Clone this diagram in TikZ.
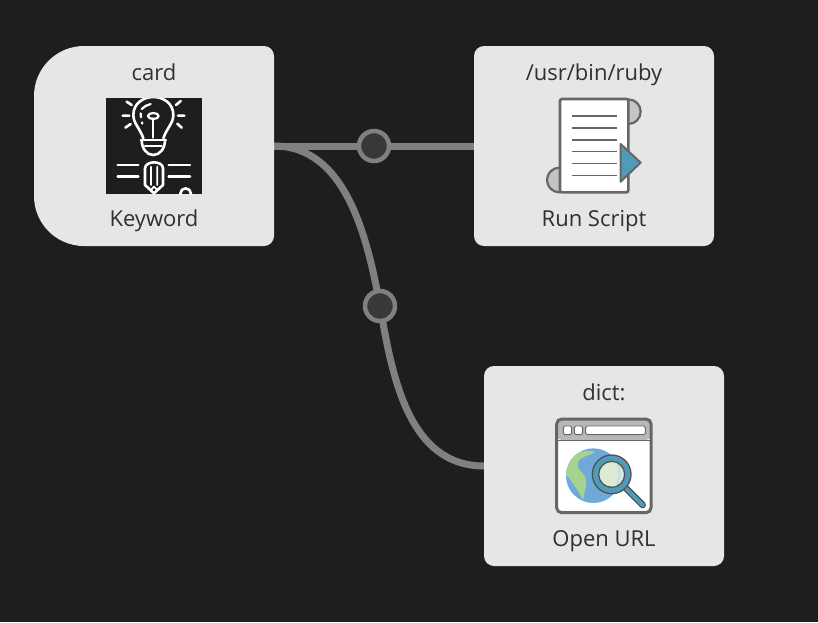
\documentclass[tikz,border=0pt]{standalone}
\usepackage{fontspec}
\setmainfont{Open Sans}
\definecolor{bgc}{HTML}{1E1E1E}
\definecolor{boxc}{HTML}{E6E6E6}
\definecolor{linec}{HTML}{808080}
\definecolor{dotc}{HTML}{383838}
\definecolor{txtc}{HTML}{303030}
\definecolor{ico}{HTML}{666666}
\definecolor{teal}{HTML}{4F9BB8}
\definecolor{curl}{HTML}{C4C4C4}
\definecolor{hdr}{HTML}{B8B8B8}
\definecolor{globe}{HTML}{70A8D8}
\definecolor{land}{HTML}{A6D48E}
\definecolor{lens}{HTML}{DCEBD4}
\tikzset{
  x=1pt,y=-1pt,
  nodebox/.style={fill=boxc,rounded corners=10pt,minimum width=240pt,minimum height=200pt,inner sep=0pt,outer sep=0pt},
  ghost/.style={minimum width=240pt,minimum height=200pt,inner sep=0pt,outer sep=0pt},
  lbl/.style={text=txtc,font=\fontsize{22pt}{24pt}\selectfont,inner sep=0pt,anchor=base},
  conn/.style={draw=linec,line width=7pt},
  via/.style={circle,draw=linec,fill=dotc,line width=4.5pt,minimum size=30pt,inner sep=0pt},
  icoline/.style={draw=ico,line width=2pt},
  bulb/.style={draw=white,line width=2.2pt,line cap=round,line join=round}
}
\begin{document}
\begin{tikzpicture}
\useasboundingbox (0,0) rectangle (818,622);
\fill[bgc] (0,0) rectangle (818,622);
% anchors for the boxes
\node[ghost] (card) at (154,146) {};
\node[ghost] (ruby) at (594,146) {};
\node[ghost] (dict) at (604,466) {};
\coordinate (d1c) at (374,146);
\coordinate (d2c) at (380,306);
% connectors
\draw[conn] (card.east) -- (ruby.west);
\draw[conn] (card.east) .. controls (345,146) and (367,235) .. (d2c);
\draw[conn] (d2c) .. controls (392,375) and (408,466) .. (dict.west);
\node[via] (d1) at (d1c) {};
\node[via] (d2) at (d2c) {};
% boxes
\fill[boxc,rounded corners=50pt] (34,146) -- (34,46) -- (154,46) [rounded corners=10pt] -- (274,46) -- (274,246) -- (154,246) [rounded corners=50pt] -- (34,246) -- (34,146);
\node[nodebox] at (ruby) {};
\node[nodebox] at (dict) {};
% labels
\node[lbl] (t1) at (154,80) {card};
\node[lbl] (t2) at (154,226) {Keyword};
\node[lbl] (t3) at (594,80) {/usr/bin/ruby};
\node[lbl] (t4) at (594,226) {Run Script};
\node[lbl] (t5) at (604,400) {dict:};
\node[lbl] (t6) at (604,546) {Open URL};
% keyword icon
\begin{scope}[shift={(90,85)},xscale=1/3,yscale=1/3]
  \fill[bgc] (48,39) rectangle (336,327);
  \begin{scope}
    \clip (48,39) rectangle (336,327);
    \draw[bulb,line width=2.6pt] (160,160) .. controls (150,130) and (130,115) .. (130,90)
       .. controls (130,55) and (160,36) .. (190,36) .. controls (220,36) and (250,55) .. (250,90)
       .. controls (250,115) and (230,130) .. (220,160);
    \draw[bulb,line width=2.6pt] (153,165) -- (228,165);
    \draw[bulb,line width=2.6pt] (155,165) .. controls (155,190) and (170,210) .. (190,210) .. controls (210,210) and (225,190) .. (225,165);
    \draw[bulb] (165,182) -- (215,182);
    \draw[bulb] (190,158) -- (190,100);
    \draw[bulb] (190,93) ellipse[x radius=16,y radius=9];
    \draw[bulb] (155,72) .. controls (162,64) and (172,60) .. (182,57);
    \draw[bulb] (152,85) -- (153,97) (156,112) -- (157,116);
    \draw[bulb,line width=2.6pt] (98,92) -- (118,92) (264,92) -- (283,92) (110,50) -- (125,60) (272,48) -- (258,60) (106,128) -- (122,117) (275,128) -- (262,116);
    \draw[bulb,line width=2.6pt] (83,240) -- (145,240) (83,275) -- (145,275) (236,240) -- (300,240) (236,275) -- (300,275);
    \draw[bulb,line width=2.6pt] (165,250) .. controls (165,238) and (180,232) .. (192,232) .. controls (205,232) and (219,238) .. (219,250)
       -- (219,300) -- (192,325) -- (165,300) -- cycle;
    \draw[bulb,line width=1.8pt] (183,245) -- (183,300) (202,245) -- (202,300) (170,305) -- (183,315) -- (192,305) -- (202,315) -- (214,305);
    \draw[bulb,line width=2.6pt] (287,326) circle[radius=16];
  \end{scope}
\end{scope}
% script icon
\begin{scope}[shift={(530,85)},xscale=1/3,yscale=1/3]
  \filldraw[fill=curl,icoline,line width=2.2pt] (295,80) circle[radius=37];
  \filldraw[fill=curl,icoline,line width=2.2pt] (88,285) circle[radius=37];
  \filldraw[fill=white,icoline,line width=2.6pt,rounded corners=2pt] (90,42) rectangle (295,322);
  \foreach \yy in {93,129,165,200,236,272} \draw[icoline,line width=1.5pt] (125,\yy) -- (260,\yy);
  \filldraw[fill=teal,icoline,line join=round] (272,177) -- (332,233) -- (272,290) -- cycle;
\end{scope}
% browser icon
\begin{scope}[shift={(540,405)},xscale=1/3,yscale=1/3]
  \fill[white,rounded corners=5pt] (50,42) rectangle (333,323);
  \fill[hdr,rounded corners=5pt] (50,42) -- (333,42) -- (333,105) -- (50,105) -- cycle;
  \draw[icoline,line width=3pt,rounded corners=5pt] (50,42) rectangle (333,323);
  \draw[icoline,line width=0.8pt] (50,106) -- (333,106);
  \foreach \a/\b in {70/95,103/128,137/316}
    \filldraw[fill=white,draw=ico,line width=0.9pt,rounded corners=1.5pt] (\a,63) rectangle (\b,89);
  \fill[globe] (160,212) circle[radius=82];
  \begin{scope}
    \clip (160,212) circle[radius=82];
    \fill[land] (78,190) .. controls (90,150) and (125,130) .. (165,140) .. controls (150,155) and (125,150) .. (115,170)
       .. controls (105,190) and (125,195) .. (135,215) .. controls (145,240) and (130,265) .. (130,285)
       .. controls (115,260) and (95,225) .. (78,210) -- cycle;
  \end{scope}
  \draw[draw=ico!70!black,line width=6.5pt,line cap=round] (258,250) -- (308,300);
  \draw[draw=teal,line width=4.2pt,line cap=round] (258,250) -- (308,300);
  \filldraw[fill=teal,draw=ico!80!black,line width=1.3pt] (215,208) circle[radius=58];
  \filldraw[fill=lens,draw=ico!80!black,line width=1.3pt] (215,208) circle[radius=39];
  \fill[globe!40!white] (226,172) .. controls (238,190) and (238,225) .. (222,246) .. controls (246,235) and (250,185) .. (226,172);
\end{scope}
\end{tikzpicture}
\end{document}
